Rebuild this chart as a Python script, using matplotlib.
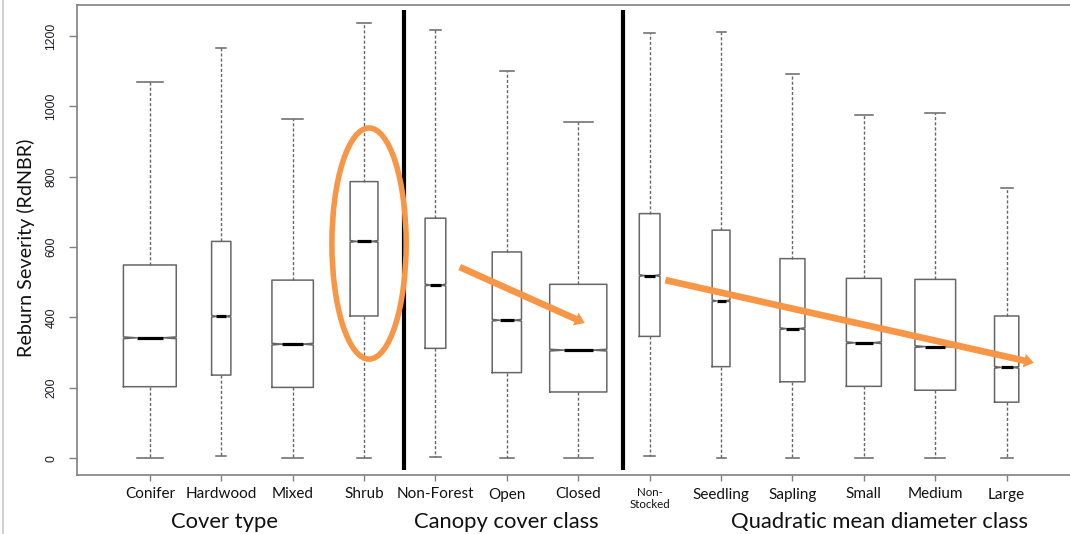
import matplotlib
matplotlib.use("Agg")
import matplotlib.pyplot as plt
from matplotlib.patches import Ellipse, FancyArrowPatch, ArrowStyle
from matplotlib.lines import Line2D

# ---- data ----
categories = ['Conifer', 'Hardwood', 'Mixed', 'Shrub', 'Non-Forest', 'Open', 'Closed',
              'Non-\nStocked', 'Seedling', 'Sapling', 'Small', 'Medium', 'Large']
whisker_low = [0, 5, 0, 0, 4, 0, 0, 6, 0, 0, 0, 0, 0]
quartile1 = [203, 236, 201, 404, 312, 243, 188, 346, 260, 217, 204, 193, 159]
median = [342, 403, 324, 616, 492, 392, 307, 519, 447, 368, 328, 317, 258]
quartile3 = [549, 616, 506, 786, 682, 586, 494, 695, 648, 567, 511, 508, 404]
whisker_high = [1070, 1165, 965, 1238, 1216, 1101, 954, 1207, 1210, 1092, 975, 980, 768]
# relative box widths (variable width ~ sample size)
box_widths = [0.74, 0.27, 0.58, 0.39, 0.29, 0.41, 0.80, 0.29, 0.25, 0.35, 0.49, 0.57, 0.34]
group_names = ['Cover type', 'Canopy cover class', 'Quadratic mean diameter class']
yticks = [0, 200, 400, 600, 800, 1000, 1200]

ORANGE = '#F79646'
GRAY = '#666666'

fig = plt.figure(figsize=(10.7, 5.34), dpi=100)
ax = fig.add_axes([77 / 1070, 59 / 534, 1002.5 / 1070, 470 / 534])

positions = list(range(1, len(categories) + 1))
notch_half = 2.5
stats = []
for i, lab in enumerate(categories):
    stats.append(dict(label=lab, whislo=whisker_low[i], q1=quartile1[i], med=median[i],
                      q3=quartile3[i], whishi=whisker_high[i],
                      cilo=median[i] - notch_half, cihi=median[i] + notch_half, fliers=[]))

ax.bxp(stats, positions=positions, widths=box_widths,
       capwidths=[w * 0.5 for w in box_widths],
       shownotches=True, showfliers=False,
       boxprops=dict(color=GRAY, linewidth=1.1),
       whiskerprops=dict(color=GRAY, linewidth=1.0, linestyle=(0, (2.2, 1.5))),
       capprops=dict(color=GRAY, linewidth=1.1),
       medianprops=dict(color='black', linewidth=2.3, solid_capstyle='butt'))

ax.set_xlim(-0.02, 14.02)
ax.set_ylim(-48, 1288)

for s in ax.spines.values():
    s.set_color('#808080')
    s.set_linewidth(1.2)

ax.set_yticks(yticks)
ax.set_yticklabels([str(v) for v in yticks], rotation=90, va='center',
                   family='Liberation Sans', fontsize=8.8, color='#1a1a2a')
ax.tick_params(axis='y', length=6, width=1, color='#808080', pad=8)
ax.tick_params(axis='x', length=4.5, width=1, color='#808080', pad=4.5)

ax.set_xticks(positions)
ax.set_xticklabels(categories, family='Lato', fontsize=11, color='#111111')
for t in ax.get_xticklabels():
    if t.get_text().startswith('Non-\n'):
        t.set_fontsize(8.3)
        t.set_linespacing(1.05)

ax.text(-0.051, 0.483, 'Reburn Severity (RdNBR)', transform=ax.transAxes, rotation=90,
        ha='center', va='center', family='Lato', fontsize=14.2, color='#111111')

group_centers = [2.05, 5.99, 11.22]
for name, cx in zip(group_names, group_centers):
    ax.text(cx, -0.1, name, transform=ax.get_xaxis_transform(), ha='center', va='center',
            family='Lato', fontsize=15.8, color='#111111')

# group separators
for xs in [4.557, 7.625]:
    ax.plot([xs, xs], [-34, 1274], color='black', linewidth=3, solid_capstyle='butt', zorder=3)

# orange annotations
ax.add_patch(Ellipse((4.07, 610), 1.04, 657, fill=False, edgecolor=ORANGE, linewidth=4, zorder=4))
style = ArrowStyle('simple', head_length=0.7, head_width=1.0, tail_width=0.48)
for (xa, ya), (xb, yb) in [((5.34, 543), (7.09, 384)), ((8.22, 506), (13.38, 271))]:
    ax.add_patch(FancyArrowPatch((xa, ya), (xb, yb), arrowstyle=style, mutation_scale=10,
                                 color=ORANGE, linewidth=0, shrinkA=0, shrinkB=0, zorder=5))

# light screenshot frame at left edge
fig.add_artist(Line2D([3 / 1070, 3 / 1070], [0, 1], color='#c8c8c8', linewidth=1.2))

fig.savefig('out.png', dpi=100)
